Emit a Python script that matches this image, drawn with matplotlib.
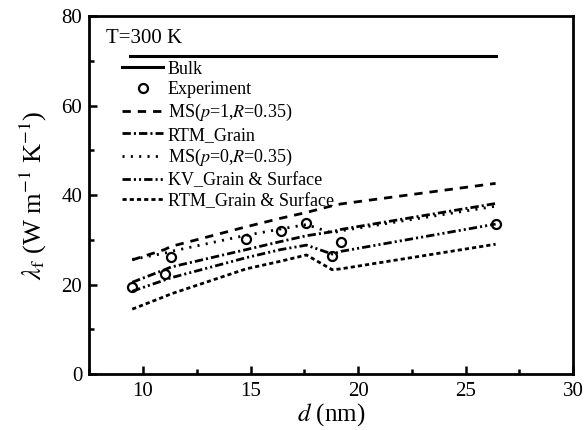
import numpy as np
import matplotlib
matplotlib.use("Agg")
import matplotlib.pyplot as plt
from matplotlib.ticker import MultipleLocator

plt.rcParams['font.family'] = ['Liberation Serif', 'DejaVu Serif']
plt.rcParams['mathtext.fontset'] = 'stix'
plt.rcParams['lines.scale_dashes'] = False

# sample thickness (nm)
d = [9.5, 11.0, 11.3, 14.8, 16.4, 17.6, 18.8, 19.2, 26.4]
exp_val = [19.4, 22.3, 26.1, 30.1, 32.0, 33.7, 26.4, 29.4, 33.5]

bulk_x = [9.4, 26.4]
bulk_y = [71.0, 71.0]

ms_p1 = [25.5, 27.8, 28.5, 32.9, 34.8, 36.1, 37.6, 38.0, 42.6]
rtm_grain = [20.5, 23.3, 23.9, 27.8, 29.6, 30.9, 31.8, 32.3, 38.1]
ms_p0 = [25.6, 27.0, 27.4, 31.0, 32.4, 33.4, 31.5, 32.0, 37.5]
kv_gs = [18.5, 21.0, 21.5, 26.0, 27.8, 28.8, 26.8, 27.4, 33.5]
rtm_gs = [14.5, 17.3, 17.9, 23.5, 25.2, 26.6, 23.3, 23.5, 29.0]

fig = plt.figure(figsize=(5.85, 4.30), dpi=100)
ax = fig.add_axes([0.1526, 0.1302, 0.8269, 0.8326])

ax.plot(bulk_x, bulk_y, color='black', lw=2.2, label='Bulk')
ax.plot(d, exp_val, 'o', ms=6.5, mfc='none', mec='black', mew=1.6, label='Experiment')
ax.plot(d, ms_p1, color='black', lw=2.0, dashes=(6, 5), label=r'MS($p$=1,$R$=0.35)')
ax.plot(d, rtm_grain, color='black', lw=2.0, dashes=(6, 2.2, 1.5, 2.2), label='RTM_Grain')
ax.plot(d, ms_p0, color='black', lw=2.0, dashes=(1.5, 4.5), label=r'MS($p$=0,$R$=0.35)')
ax.plot(d, kv_gs, color='black', lw=2.0, dashes=(6, 2.2, 1.5, 2.2, 1.5, 2.2), label='KV_Grain & Surface')
ax.plot(d, rtm_gs, color='black', lw=2.0, dashes=(3, 2.2), label='RTM_Grain & Surface')

ax.set_xlim(7.5, 30)
ax.set_ylim(0, 80)
ax.xaxis.set_major_locator(MultipleLocator(5))
ax.xaxis.set_minor_locator(MultipleLocator(2.5))
ax.yaxis.set_major_locator(MultipleLocator(20))
ax.yaxis.set_minor_locator(MultipleLocator(10))
ax.tick_params(which='both', direction='in', width=1.8, labelsize=15)
ax.tick_params(which='major', length=6)
ax.tick_params(which='minor', length=3.5)
ax.tick_params(axis='x', pad=6)
ax.tick_params(axis='y', pad=5)
for s in ax.spines.values():
    s.set_linewidth(2.0)

ax.set_xlabel(r'$d$ (nm)', fontsize=18, labelpad=0)
ax.set_ylabel(r'$\lambda_{\rm f}$ (W m$^{-1}$ K$^{-1}$)', fontsize=19, labelpad=9)

ax.text(0.035, 0.9385, 'T=300 K', transform=ax.transAxes, fontsize=15, va='center')

ax.legend(loc='upper left', bbox_to_anchor=(0.06, 0.885), frameon=False, fontsize=13,
          handlelength=2.3, handletextpad=0.25, labelspacing=0.2, borderaxespad=0,
          borderpad=0.2)

fig.savefig('out.png', dpi=100)
